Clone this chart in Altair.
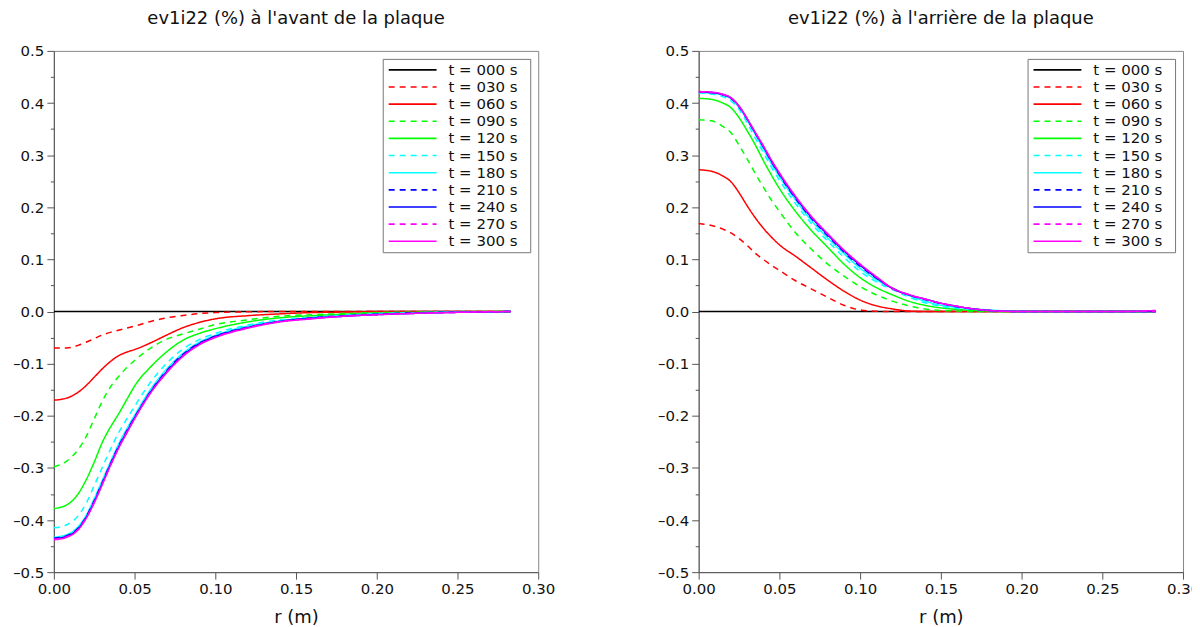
import altair as alt
import pandas as pd

TIMES = ["000", "030", "060", "090", "120", "150", "180", "210", "240", "270", "300"]
LABELS = ["t = " + t + " s" for t in TIMES]
COLORS = ["#000000", "#ff0000", "#ff0000", "#00ff00", "#00ff00", "#00ffff",
          "#00ffff", "#0000ff", "#0000ff", "#ff00ff", "#ff00ff"]
DASHES = [[1, 0], [6, 5], [1, 0], [6, 5], [1, 0], [6, 5], [1, 0], [6, 5], [1, 0], [6, 5], [1, 0]]

# ---- front of the plate (avant) ----
R_AVANT = [0, 0.008, 0.015, 0.02, 0.025, 0.03, 0.035, 0.04, 0.045, 0.05, 0.06, 0.07,
           0.08, 0.09, 0.10, 0.12, 0.14, 0.16, 0.18, 0.20, 0.23, 0.26, 0.283]
AV_000 = [0, 0, 0, 0, 0, 0, 0, 0, 0, 0, 0, 0, 0, 0, 0, 0, 0, 0, 0, 0, 0, 0, 0]
AV_030 = [-0.070, -0.070, -0.065, -0.059, -0.052, -0.045, -0.040, -0.036, -0.032, -0.028, -0.019, -0.012,
          -0.0075, -0.004, -0.002, -0.0005, 0, 0, 0, 0, 0, 0, 0]
AV_060 = [-0.170, -0.166, -0.155, -0.142, -0.126, -0.110, -0.096, -0.085, -0.078, -0.073, -0.060, -0.045,
          -0.031, -0.021, -0.014, -0.008, -0.0045, -0.002, -0.001, 0, 0, 0, 0]
AV_090 = [-0.298, -0.287, -0.265, -0.240, -0.206, -0.172, -0.145, -0.125, -0.108, -0.094, -0.070, -0.053,
          -0.043, -0.034, -0.025, -0.016, -0.009, -0.006, -0.004, -0.002, -0.001, 0, 0]
AV_120 = [-0.378, -0.371, -0.350, -0.323, -0.289, -0.251, -0.222, -0.197, -0.170, -0.143, -0.106, -0.077,
          -0.055, -0.042, -0.033, -0.020, -0.012, -0.008, -0.005, -0.003, -0.0015, -0.0005, 0]
AV_150 = [-0.415, -0.409, -0.392, -0.368, -0.334, -0.299, -0.265, -0.233, -0.207, -0.182, -0.135, -0.099,
          -0.072, -0.054, -0.042, -0.026, -0.016, -0.011, -0.007, -0.004, -0.002, -0.0008, 0]
AV_180 = [-0.433, -0.428, -0.413, -0.391, -0.359, -0.324, -0.289, -0.255, -0.226, -0.199, -0.149, -0.110,
          -0.080, -0.059, -0.046, -0.028, -0.018, -0.012, -0.008, -0.005, -0.002, -0.001, 0]
AV_210 = [-0.435, -0.430, -0.416, -0.394, -0.363, -0.328, -0.292, -0.259, -0.230, -0.203, -0.153, -0.113,
          -0.082, -0.061, -0.047, -0.030, -0.019, -0.012, -0.008, -0.005, -0.002, -0.001, 0]
AV_240 = [-0.436, -0.431, -0.417, -0.395, -0.365, -0.330, -0.294, -0.261, -0.232, -0.204, -0.154, -0.115,
          -0.084, -0.062, -0.048, -0.031, -0.019, -0.013, -0.009, -0.006, -0.003, -0.001, 0]
AV_270 = [-0.437, -0.432, -0.418, -0.396, -0.366, -0.331, -0.295, -0.262, -0.233, -0.205, -0.155, -0.116,
          -0.085, -0.063, -0.049, -0.031, -0.019, -0.013, -0.009, -0.006, -0.003, -0.001, 0]
AV_300 = [-0.438, -0.433, -0.419, -0.397, -0.367, -0.332, -0.296, -0.263, -0.234, -0.206, -0.156, -0.117,
          -0.086, -0.064, -0.050, -0.032, -0.020, -0.014, -0.009, -0.006, -0.003, -0.001, 0]

# ---- back of the plate (arriere) ----
R_ARRIERE = [0, 0.008, 0.015, 0.02, 0.025, 0.03, 0.035, 0.04, 0.045, 0.05, 0.06, 0.07, 0.08, 0.09,
             0.10, 0.11, 0.12, 0.13, 0.14, 0.15, 0.16, 0.17, 0.18, 0.19, 0.20, 0.23, 0.26, 0.283]
AR_000 = [0, 0, 0, 0, 0, 0, 0, 0, 0, 0, 0, 0, 0, 0, 0, 0, 0, 0, 0, 0, 0, 0, 0, 0, 0, 0, 0, 0]
AR_030 = [0.169, 0.165, 0.158, 0.151, 0.140, 0.127, 0.112, 0.100, 0.089, 0.079, 0.059, 0.043, 0.027, 0.012,
          0.003, 0.0005, 0, 0, 0, 0, 0, 0, 0, 0, 0, 0, 0, 0]
AR_060 = [0.272, 0.269, 0.260, 0.249, 0.228, 0.203, 0.180, 0.160, 0.143, 0.128, 0.106, 0.083, 0.060, 0.039,
          0.022, 0.011, 0.005, 0.001, 0, 0, 0, 0, 0, 0, 0, 0, 0, 0]
AR_090 = [0.368, 0.366, 0.355, 0.343, 0.319, 0.293, 0.265, 0.239, 0.214, 0.192, 0.151, 0.119, 0.091, 0.068,
          0.048, 0.032, 0.020, 0.011, 0.005, 0.002, 0.001, 0, 0, 0, 0, 0, 0, 0]
AR_120 = [0.409, 0.407, 0.400, 0.391, 0.372, 0.347, 0.320, 0.290, 0.262, 0.236, 0.192, 0.155, 0.123, 0.091,
          0.065, 0.046, 0.032, 0.020, 0.012, 0.007, 0.004, 0.002, 0.001, 0, 0, 0, 0, 0]
AR_150 = [0.419, 0.417, 0.412, 0.404, 0.388, 0.362, 0.333, 0.305, 0.277, 0.252, 0.207, 0.168, 0.135, 0.104,
          0.077, 0.057, 0.042, 0.028, 0.017, 0.010, 0.006, 0.004, 0.002, 0.001, 0, 0, 0, 0]
AR_180 = [0.420, 0.419, 0.415, 0.408, 0.392, 0.367, 0.340, 0.312, 0.284, 0.259, 0.214, 0.174, 0.141, 0.111,
          0.083, 0.061, 0.045, 0.031, 0.020, 0.012, 0.008, 0.005, 0.003, 0.001, 0, 0, 0, 0]
AR_210 = [0.421, 0.420, 0.416, 0.409, 0.393, 0.369, 0.342, 0.316, 0.288, 0.262, 0.217, 0.178, 0.145, 0.114,
          0.087, 0.064, 0.045, 0.032, 0.023, 0.015, 0.009, 0.005, 0.002, 0.0005, 0, 0, 0, 0]
AR_240 = [0.421, 0.420, 0.416, 0.410, 0.394, 0.370, 0.343, 0.317, 0.289, 0.264, 0.219, 0.180, 0.147, 0.116,
          0.089, 0.065, 0.044, 0.032, 0.024, 0.016, 0.010, 0.005, 0.002, 0.0005, 0, 0, 0, 0]
AR_270 = [0.421, 0.420, 0.416, 0.410, 0.394, 0.370, 0.343, 0.318, 0.290, 0.265, 0.220, 0.181, 0.148, 0.117,
          0.090, 0.066, 0.044, 0.032, 0.024, 0.016, 0.010, 0.005, 0.002, 0.0005, 0, 0, 0, 0]
AR_300 = [0.422, 0.421, 0.417, 0.410, 0.394, 0.370, 0.344, 0.318, 0.291, 0.266, 0.221, 0.182, 0.149, 0.118,
          0.091, 0.067, 0.045, 0.033, 0.024, 0.016, 0.010, 0.005, 0.002, 0.0005, 0, 0, 0, 0.002]

AVANT = [AV_000, AV_030, AV_060, AV_090, AV_120, AV_150, AV_180, AV_210, AV_240, AV_270, AV_300]
ARRIERE = [AR_000, AR_030, AR_060, AR_090, AR_120, AR_150, AR_180, AR_210, AR_240, AR_270, AR_300]

X_TICKS = [0, 0.05, 0.1, 0.15, 0.2, 0.25, 0.3]
Y_TICKS = [-0.5, -0.45, -0.4, -0.35, -0.3, -0.25, -0.2, -0.15, -0.1, -0.05, 0,
           0.05, 0.1, 0.15, 0.2, 0.25, 0.3, 0.35, 0.4, 0.45, 0.5]


def build(rs, series):
    rows = []
    for k, (lab, vals) in enumerate(zip(LABELS, series)):
        for r, v in zip(rs, vals):
            rows.append({"r": r, "v": v, "t": lab, "k": k})
    return pd.DataFrame(rows)


FONT = "DejaVu Sans"
legend = alt.Legend(
    title=None, orient="top-right", offset=8, fillColor="white", strokeColor="#777",
    padding=3, symbolType="M-3.43,0H3.43", symbolSize=196, symbolStrokeWidth=1.6,
    labelFontSize=15, labelFont=FONT, labelColor="#111", rowPadding=1.2,
    labelOffset=28, symbolOffset=19,
    labelExpr="datum.label + '\u00a0\u00a0\u200b'",
)

major_test = "abs(datum.value*10 - round(datum.value*10)) < 0.001"


def panel(df, title):
    return alt.Chart(df, title=alt.TitleParams(
        title, fontSize=18, font=FONT, fontWeight="normal", color="#111", offset=2,
        anchor="middle", frame="group", baseline="alphabetic")
    ).mark_line(strokeWidth=1.5, interpolate="monotone", clip=True).encode(
        x=alt.X("r:Q", title="r (m)",
                scale=alt.Scale(domain=[0, 0.3], nice=False),
                axis=alt.Axis(values=X_TICKS, format=".2f", labelFlush=False,
                              tickSize=7, labelPadding=2, titlePadding=13, grid=False)),
        y=alt.Y("v:Q", title=None,
                scale=alt.Scale(domain=[-0.5, 0.5], nice=False),
                axis=alt.Axis(values=Y_TICKS,
                              labelExpr=major_test + " ? replace(format(datum.value, '.1f'), '\u2212', '\u2013') : ''",
                              tickSize={"condition": {"test": major_test, "value": 7}, "value": 3.5},
                              labelPadding=3, grid=False)),
        color=alt.Color("t:N", scale=alt.Scale(domain=LABELS, range=COLORS), legend=legend),
        strokeDash=alt.StrokeDash("t:N", scale=alt.Scale(domain=LABELS, range=DASHES), legend=legend),
        order="k:Q",
    ).properties(width=486, height=523)


left = panel(build(R_AVANT, AVANT), "ev1i22 (%) à l'avant de la plaque")
right = panel(build(R_ARRIERE, ARRIERE), "ev1i22 (%) à l'arrière de la plaque")

chart = alt.hconcat(left, right, spacing=101).resolve_legend(
    color="independent", strokeDash="independent"
).resolve_scale(color="independent", strokeDash="independent").properties(
    padding={"left": 4, "top": 0, "right": -9, "bottom": 0}
).configure(background="white").configure_view(
    stroke="#888", strokeWidth=1
).configure_axis(
    labelFont=FONT, labelFontSize=15, labelColor="#111", titleFont=FONT, titleFontSize=18,
    titleFontWeight="normal", titleColor="#111", domainColor="#555", tickColor="#555",
)

chart.save("out.html", embed_options={"renderer": "svg", "actions": False})
